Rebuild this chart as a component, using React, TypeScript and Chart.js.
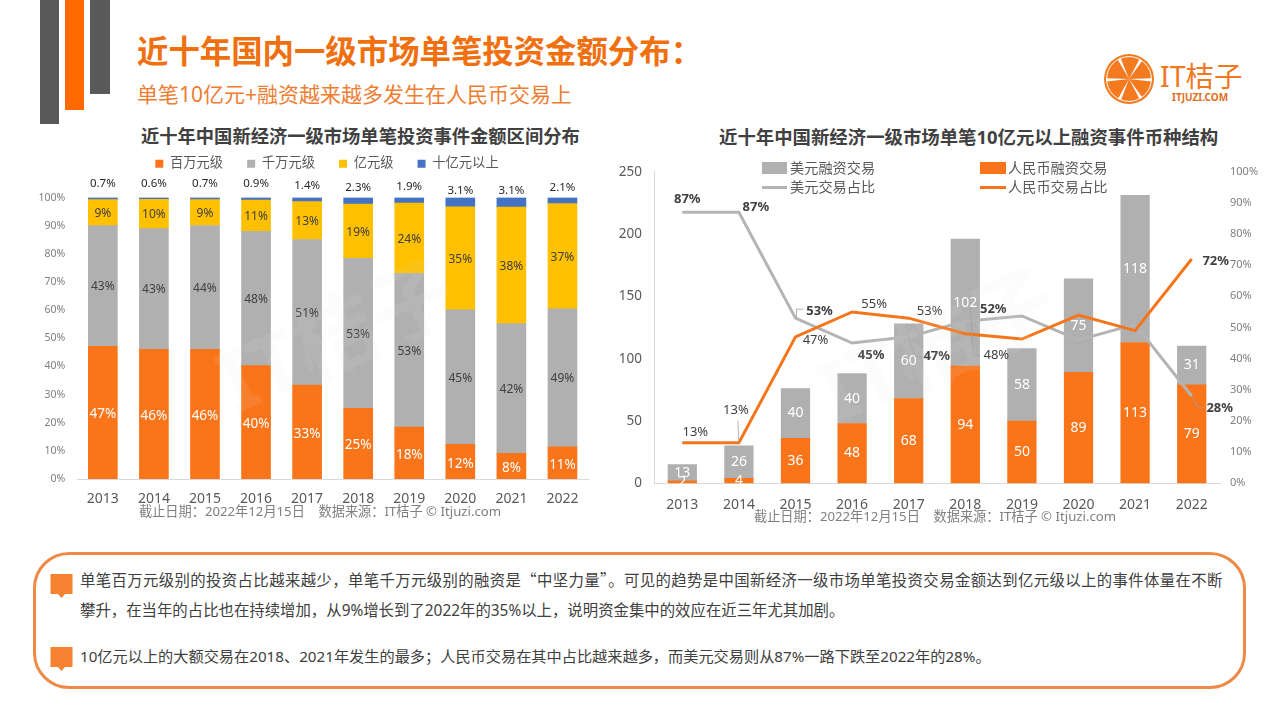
import { useEffect, useRef } from "react";
import type { CSSProperties } from "react";
import { Chart, registerables } from "chart.js";

Chart.register(...registerables);

// ---- data ----
const years = ["2013", "2014", "2015", "2016", "2017", "2018", "2019", "2020", "2021", "2022"];

const millionLevel = [47, 45.9, 45.9, 40.2, 33.1, 25.1, 18, 11.7, 8.3, 11.3];
const tenMillionLevel = [42.7, 42.7, 43.9, 47.6, 51.4, 53.2, 53.4, 45.4, 42, 48.5];
const hundredMillionLevel = [9.2, 10.4, 9.2, 11.1, 13.4, 19.2, 24.4, 34.8, 37.7, 37];
const billionLevel = [0.7, 0.6, 0.7, 0.9, 1.4, 2.3, 1.9, 3.1, 3.1, 2.1];

// right chart
const usdDeals = [13, 26, 40, 40, 60, 102, 58, 75, 118, 31];
const rmbDeals = [2, 4, 36, 48, 68, 94, 50, 89, 113, 79];
const usdShare = [87, 87, 53, 45, 47, 52, 53.7, 46, 51, 28];
const rmbShare = [13, 13, 47, 55, 53, 48, 46.3, 54, 49, 72];

const leftLegend = ["百万元级", "千万元级", "亿元级", "十亿元以上"];
const FONT = '"Noto Sans", "Noto Sans CJK SC", sans-serif';
const ORANGE = "#FA7419";
const GRAY = "#B0B0B0";

// where the share labels sit relative to their point, leader lines included
type ShareNote = { usd: boolean; i: number; dx: number; dy: number; bold?: boolean; leader?: number[][] };
const shareNotes: ShareNote[] = [
  { usd: true, i: 0, dx: 5, dy: -13, bold: true },
  { usd: true, i: 1, dx: 17, dy: -5, bold: true },
  { usd: true, i: 2, dx: 24, dy: -7, bold: true, leader: [[1, 0], [1, -9], [8, -9]] },
  { usd: true, i: 3, dx: 19, dy: 12, bold: true },
  { usd: true, i: 4, dx: 28, dy: 19, bold: true, leader: [[0, 0], [7, 20], [13, 20]] },
  { usd: true, i: 5, dx: 28, dy: -12, bold: true },
  { usd: true, i: 9, dx: 28, dy: 12, bold: true, leader: [[0, 0], [6, 11], [13, 11]] },
  { usd: false, i: 0, dx: 13, dy: -10 },
  { usd: false, i: 1, dx: -3, dy: -32, leader: [[0, 0], [-1, -22]] },
  { usd: false, i: 2, dx: 20, dy: 3 },
  { usd: false, i: 3, dx: 22, dy: -8 },
  { usd: false, i: 4, dx: 21, dy: -7 },
  { usd: false, i: 5, dx: 31, dy: 22, leader: [[5, -27], [8, 22], [15, 22]] },
  { usd: false, i: 9, dx: 24, dy: 2, bold: true },
];

const totals = years.map((_, i) => millionLevel[i] + tenMillionLevel[i] + hundredMillionLevel[i] + billionLevel[i]);
const toShare = (list: number[]) => list.map((v, i) => (v / totals[i]) * 100);

// ---- plugins ----
const stackLabels = {
  id: "stackLabels",
  afterDatasetsDraw(chart: any) {
    const { ctx, scales } = chart;
    ctx.save();
    ctx.textAlign = "center";
    ctx.textBaseline = "middle";
    years.forEach((_, i) => {
      const x = scales.x.getPixelForValue(i);
      let sum = 0;
      [millionLevel, tenMillionLevel, hundredMillionLevel].forEach((list, s) => {
        const share = (list[i] / totals[i]) * 100;
        ctx.fillStyle = s === 0 ? "#fff" : "#404040";
        ctx.font = `${s === 0 ? 13.5 : 12}px ${FONT}`;
        ctx.fillText(`${Math.round(list[i])}%`, x, scales.y.getPixelForValue(sum + share / 2) + (s === 0 ? 2 : 1));
        sum += share;
      });
      ctx.fillStyle = "#262626";
      ctx.font = `11.5px ${FONT}`;
      ctx.fillText(`${billionLevel[i]}%`, x, scales.y.getPixelForValue(100 - billionLevel[i]) - 16);
    });
    ctx.restore();
  },
};

const dealLabels = {
  id: "dealLabels",
  afterDatasetsDraw(chart: any) {
    const { ctx, scales } = chart;
    ctx.save();
    ctx.textAlign = "center";
    ctx.textBaseline = "middle";
    ctx.fillStyle = "#fff";
    ctx.font = `14px ${FONT}`;
    years.forEach((_, i) => {
      const x = scales.x.getPixelForValue(i);
      ctx.fillText(String(rmbDeals[i]), x, scales.y.getPixelForValue(rmbDeals[i] / 2));
      ctx.fillText(String(usdDeals[i]), x, scales.y.getPixelForValue(rmbDeals[i] + usdDeals[i] / 2));
    });
    shareNotes.forEach((note) => {
      const value = (note.usd ? usdShare : rmbShare)[note.i];
      const x = scales.x.getPixelForValue(note.i);
      const y = scales.y1.getPixelForValue(value);
      if (note.leader) {
        ctx.strokeStyle = "#a0a0a0";
        ctx.lineWidth = 0.8;
        ctx.beginPath();
        note.leader.forEach(([lx, ly], n) => (n ? ctx.lineTo(x + lx, y + ly) : ctx.moveTo(x + lx, y + ly)));
        ctx.stroke();
      }
      ctx.fillStyle = "#404040";
      ctx.font = `${note.bold ? "bold " : ""}13px ${FONT}`;
      ctx.fillText(`${value}%`, x + note.dx, y + note.dy);
    });
    ctx.restore();
  },
};

// the stock legend leaves too little room under itself and centres on the plot box
const legendFix = {
  id: "legendFix",
  beforeInit(chart: any) {
    const fit = chart.legend.fit;
    chart.legend.fit = function () {
      fit.bind(chart.legend)();
      this.height += 17.3;
    };
  },
  afterLayout(chart: any) {
    chart.legend.left += 18;
    chart.legend.right += 18;
  },
};

// ---- small pieces ----
function Text({ x, y, size, color = "#404040", bold, spacing, family, children }: {
  x: number; y: number; size: number; color?: string; bold?: boolean; spacing?: number; family?: string; children: string;
}) {
  const style: CSSProperties = {
    position: "absolute",
    left: x,
    top: y,
    transform: "translateY(-50%)",
    fontSize: size,
    color,
    fontFamily: family,
    fontWeight: bold ? 700 : 400,
    letterSpacing: spacing,
    whiteSpace: "pre",
    lineHeight: 1,
  };
  return <div style={style}>{children}</div>;
}

function Box({ x, y, w, h, color }: { x: number; y: number; w: number; h: number; color: string }) {
  return <div style={{ position: "absolute", left: x, top: y, width: w, height: h, background: color }} />;
}

function Bubble({ y }: { y: number }) {
  return (
    <svg style={{ position: "absolute", left: 50, top: y }} width="23" height="25">
      <path d="M0.5 0 H22.5 V20 H15 L11.5 24 L8 20 H0.5 Z" fill="#F58231" />
    </svg>
  );
}

function Logo() {
  const spokes = [-116, -58, 2, 58, 115, 178];
  return (
    <svg style={{ position: "absolute", left: 1103, top: 53 }} width="52" height="52" viewBox="-26 -26 52 52">
      <circle r="25" fill="#F47A1F" />
      <circle r="22.4" fill="none" stroke="#fff" strokeWidth="1" />
      {spokes.map((deg) => (
        <polygon key={deg} points="0,0 22.5,-1.6 22.5,1.6" fill="#fff" transform={`rotate(${deg})`} />
      ))}
    </svg>
  );
}

function Watermark({ x, y }: { x: number; y: number }) {
  return (
    <div style={{ position: "absolute", left: x, top: y, fontSize: 84, fontWeight: 700, color: "rgba(225,225,225,0.1)", transform: "rotate(-24deg)", whiteSpace: "pre" }}>
      IT桔子
    </div>
  );
}

// ---- charts ----
function DistributionChart() {
  const ref = useRef<HTMLCanvasElement>(null);
  useEffect(() => {
    const colors = [ORANGE, GRAY, "#FFC000", "#4472C4"];
    const lists = [millionLevel, tenMillionLevel, hundredMillionLevel, billionLevel];
    const chart = new Chart(ref.current!, {
      type: "bar",
      data: {
        labels: years,
        datasets: lists.map((list, s) => ({
          label: leftLegend[s],
          data: toShare(list),
          backgroundColor: colors[s],
          barThickness: 29,
        })),
      },
      options: {
        responsive: false,
        animation: false,
        layout: { padding: { right: 34 } },
        plugins: {
          legend: {
            position: "top",
            labels: { boxWidth: 8, boxHeight: 8, padding: 24, color: "#595959", font: { size: 13.3, family: FONT } },
          },
          tooltip: { enabled: false },
        },
        scales: {
          x: {
            stacked: true,
            grid: { display: false },
            border: { color: "#d9d9d9" },
            ticks: { padding: 4, color: "#595959", font: { size: 14, family: FONT } },
            afterFit: (s: any) => { s.height = 33; },
          },
          y: {
            stacked: true,
            min: 0,
            max: 100,
            grid: { display: false },
            border: { display: false },
            afterFit: (s: any) => { s.width = 47.3; },
            ticks: { stepSize: 10, padding: 4, color: "#7f7f7f", font: { size: 10.5, family: FONT }, callback: (v: any) => `${v}%` },
          },
        },
      },
      plugins: [legendFix, stackLabels],
    });
    return () => chart.destroy();
  }, []);
  return <canvas ref={ref} width={592} height={379} style={{ position: "absolute", left: 30, top: 133 }} />;
}

function CurrencyChart() {
  const ref = useRef<HTMLCanvasElement>(null);
  useEffect(() => {
    const chart = new Chart(ref.current!, {
      type: "bar",
      data: {
        labels: years,
        datasets: [
          { type: "line", label: "人民币交易占比", data: rmbShare, yAxisID: "y1", borderColor: "#F5761A", borderWidth: 3, pointRadius: 0, order: 0 },
          { type: "line", label: "美元交易占比", data: usdShare, yAxisID: "y1", borderColor: "#B4B4B4", borderWidth: 3, pointRadius: 0, order: 1 },
          { label: "人民币融资交易", data: rmbDeals, backgroundColor: ORANGE, barThickness: 28.6, order: 2 },
          { label: "美元融资交易", data: usdDeals, backgroundColor: GRAY, barThickness: 28.6, order: 3 },
        ] as any,
      },
      options: {
        responsive: false,
        animation: false,
        layout: { padding: { top: 21.7 } },
        plugins: { legend: { display: false }, tooltip: { enabled: false } },
        scales: {
          x: {
            stacked: true,
            grid: { display: false },
            border: { color: "#d9d9d9" },
            ticks: { padding: 5, color: "#595959", font: { size: 14, family: FONT } },
            afterFit: (s: any) => { s.height = 46.7; },
          },
          y: {
            stacked: true,
            min: 0,
            max: 250,
            grid: { display: false },
            border: { color: "#d9d9d9" },
            afterFit: (s: any) => { s.width = 44; },
            ticks: { stepSize: 50, padding: 4, color: "#595959", font: { size: 13.5, family: FONT } },
          },
          y1: {
            position: "right",
            min: 0,
            max: 100,
            grid: { display: false },
            border: { display: false },
            afterFit: (s: any) => { s.width = 50; },
            ticks: { stepSize: 10, padding: 2, color: "#7f7f7f", font: { size: 11, family: FONT }, callback: (v: any) => `${v}%` },
          },
        },
      },
      plugins: [dealLabels],
    });
    return () => chart.destroy();
  }, []);
  return <canvas ref={ref} width={660} height={380} style={{ position: "absolute", left: 610, top: 150 }} />;
}

export default function App() {
  return (
    <div style={{ position: "absolute", left: 0, top: 0, width: 1280, height: 720, background: "#fff", overflow: "hidden", fontFamily: FONT }}>
      <Box x={40} y={0} w={19} h={124} color="#595959" />
      <Box x={65} y={0} w={19} h={110} color="#FF6A00" />
      <Box x={90} y={0} w={20} h={94} color="#595959" />

      <Text x={137} y={51} size={31.4} bold color="#F0700F">近十年国内一级市场单笔投资金额分布：</Text>
      <Text x={137} y={94} size={21} color="#EE7D31">单笔10亿元+融资越来越多发生在人民币交易上</Text>

      <Logo />
      <Text x={1160} y={76} size={28.5} color="#F0781E">IT桔子</Text>
      <Text x={1172} y={97} size={10} color="#E0701C" bold>ITJUZI.COM</Text>

      <Text x={141} y={136} size={18.3} bold>近十年中国新经济一级市场单笔投资事件金额区间分布</Text>
      <Text x={719} y={137} size={18.4} bold>近十年中国新经济一级市场单笔10亿元以上融资事件币种结构</Text>

      <DistributionChart />
      <CurrencyChart />

      <Box x={762} y={162} w={25} h={12} color={GRAY} />
      <Text x={790} y={168} size={14.2} color="#595959">美元融资交易</Text>
      <Box x={980} y={162} w={26} h={12} color={ORANGE} />
      <Text x={1008} y={168} size={14.2} color="#595959">人民币融资交易</Text>
      <Box x={762} y={186} w={25} h={3} color="#B4B4B4" />
      <Text x={790} y={187} size={14.2} color="#595959">美元交易占比</Text>
      <Box x={980} y={186} w={26} h={3} color="#F5761A" />
      <Text x={1008} y={187} size={14.2} color="#595959">人民币交易占比</Text>

      <Text x={139} y={512} size={13.2} color="#7f7f7f">{"截止日期：2022年12月15日    数据来源：IT桔子 © Itjuzi.com"}</Text>
      <Text x={754} y={517} size={13.2} color="#7f7f7f">{"截止日期：2022年12月15日    数据来源：IT桔子 © Itjuzi.com"}</Text>

      <Watermark x={210} y={270} />
      <Watermark x={810} y={280} />

      <div style={{ position: "absolute", left: 33, top: 552, width: 1213, height: 137, boxSizing: "border-box", border: "3px solid #EE8A47", borderRadius: 36 }} />
      <Bubble y={574} />
      <Bubble y={647} />
      <Text x={80} y={580} size={15.4} spacing={0.37} family='"Noto Sans CJK SC", sans-serif'>单笔百万元级别的投资占比越来越少，单笔千万元级别的融资是“中坚力量”。可见的趋势是中国新经济一级市场单笔投资交易金额达到亿元级以上的事件体量在不断</Text>
      <Text x={80} y={611} size={15.4}>攀升，在当年的占比也在持续增加，从9%增长到了2022年的35%以上，说明资金集中的效应在近三年尤其加剧。</Text>
      <Text x={80} y={657} size={15.2}>10亿元以上的大额交易在2018、2021年发生的最多；人民币交易在其中占比越来越多，而美元交易则从87%一路下跌至2022年的28%。</Text>
    </div>
  );
}
